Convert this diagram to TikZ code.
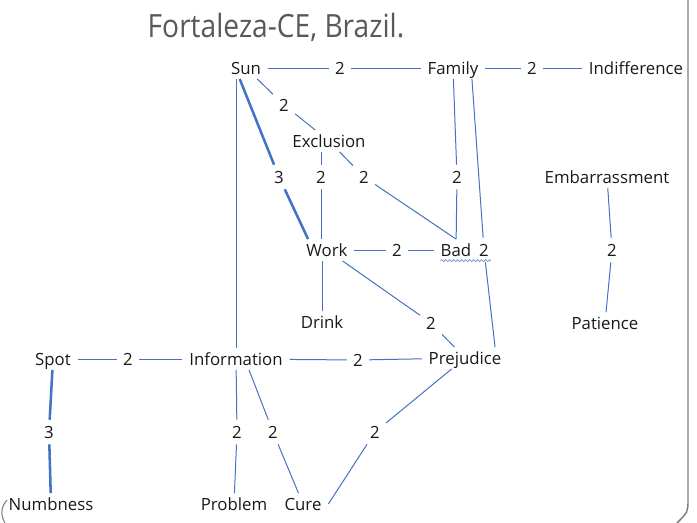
\documentclass[tikz,border=0pt]{standalone}
\usepackage{fontspec}
\setmainfont{Open Sans}
\newfontfamily\titlefont[FakeStretch=0.88]{Open Sans}
\usetikzlibrary{calc,decorations.pathmorphing}
\definecolor{linkblue}{HTML}{4472C4}
\definecolor{framegray}{HTML}{7F7F7F}
\definecolor{titlegray}{HTML}{595959}
\tikzset{
  term/.style={inner xsep=5pt, inner ysep=3.5pt, text height=9pt, text depth=0pt,
    font=\fontsize{12.6}{15}\selectfont, text=black!90},
  wgt/.style={term, inner xsep=4.5pt, inner ysep=4.5pt},
  link/.style={draw=linkblue, line width=0.75pt},
  strong/.style={draw=linkblue, line width=1.9pt},
  squiggle/.style={draw=linkblue!80, line width=0.5pt, decorate,
    decoration={snake, amplitude=0.8pt, segment length=3pt}},
}

\begin{document}
\begin{tikzpicture}[x=0.75pt, y=-0.75pt]
    \useasboundingbox (0,0) rectangle (697,522);

    % page frame
    \draw [framegray, line width=1.1pt] (688,-2) -- (688,500) .. controls (688,512) .. (677,523);
    \draw [framegray, line width=0.8pt] (7,500) .. controls (0,508) and (1,516) .. (5,523);

    % title
    \node [titlegray, font=\titlefont\fontsize{24}{28}\selectfont] (title) at (276,27) {Fortaleza-CE, Brazil.};

    % words
    \node [term] (sun) at (246,68) {Sun};
    \node [term] (family) at (453,68) {Family};
    \node [term] (indiff) at (636,68) {Indifference};
    \node [term] (excl) at (329,141) {Exclusion};
    \node [term] (embar) at (607,177) {Embarrassment};
    \node [term] (work) at (327,250) {Work};
    \node [term] (bad) at (456,250) {Bad};
    \node [term] (drink) at (322,322) {Drink};
    \node [term] (patience) at (605,323) {Patience};
    \node [term] (spot) at (53,359) {Spot};
    \node [term] (info) at (236,359) {Information};
    \node [term] (prej) at (465,358) {Prejudice};
    \node [term] (numb) at (51,504) {Numbness};
    \node [term] (problem) at (234,504) {Problem};
    \node [term] (cure) at (303,504) {Cure};

    % weights
    \node [wgt] (sunfam) at (340,68) {2};
    \node [wgt] (famind) at (532,68) {2};
    \node [wgt] (sunexcl) at (284,105) {2};
    \node [wgt] (sunwork) at (279,177) {3};
    \node [wgt] (exclwork) at (321,177) {2};
    \node [wgt] (exclbad) at (364,177) {2};
    \node [wgt] (fambad) at (457,177) {2};
    \node [wgt] (famprej) at (484,250) {2};
    \node [wgt] (workbad) at (397,250) {2};
    \node [wgt] (embpat) at (612,250) {2};
    \node [wgt] (workprej) at (431,323) {2};
    \node [wgt] (spotinfo) at (128,359) {2};
    \node [wgt] (infoprej) at (358,360) {2};
    \node [wgt] (spotnumb) at (49,432) {3};
    \node [wgt] (infoprob) at (237,432) {2};
    \node [wgt] (infocure) at (273,432) {2};
    \node [wgt] (prejcure) at (375,432) {2};

    % links
    \draw [link] (sun) -- (sunfam) -- (family);
    \draw [link] (family) -- (famind) -- (indiff);
    \draw [link] (sun) -- (sunexcl) -- (excl);
    \draw [strong] (sun.-120) -- (sunwork) -- (work.150);
    \draw [link] (info.north) -- (info.north |- sun.south);
    \draw [link] (exclwork |- excl.south) -- (exclwork) -- (exclwork |- work.north);
    \draw [link] (excl) -- (exclbad) -- (bad.north);
    \draw [link] (family) -- (fambad) -- (bad);
    \draw [link] (family.-30) -- (famprej) -- (prej.20);
    \draw [link] (work) -- (workbad) -- (bad);
    \draw [link] (drink.north) -- (drink.north |- work.south);
    \draw [link] (work) -- (workprej) -- (prej);
    \draw [link] (embar) -- (embpat) -- (patience);
    \draw [link] (spot) -- (spotinfo) -- (info);
    \draw [link] (info) -- (infoprej) -- (prej);
    \draw [strong] (spot) -- (spotnumb) -- (numb);
    \draw [link] (info) -- (infoprob) -- (problem);
    \draw [link] (info.-40) -- (infocure) -- (cure);
    \draw [link] (prej) -- (prejcure) -- (cure.east);

    % spelling mark under Bad
    \draw [squiggle] ([shift={(5pt,-3.5pt)}]bad.base west) -- ([shift={(-3pt,-3.5pt)}]famprej.base east);
\end{tikzpicture}
\end{document}
